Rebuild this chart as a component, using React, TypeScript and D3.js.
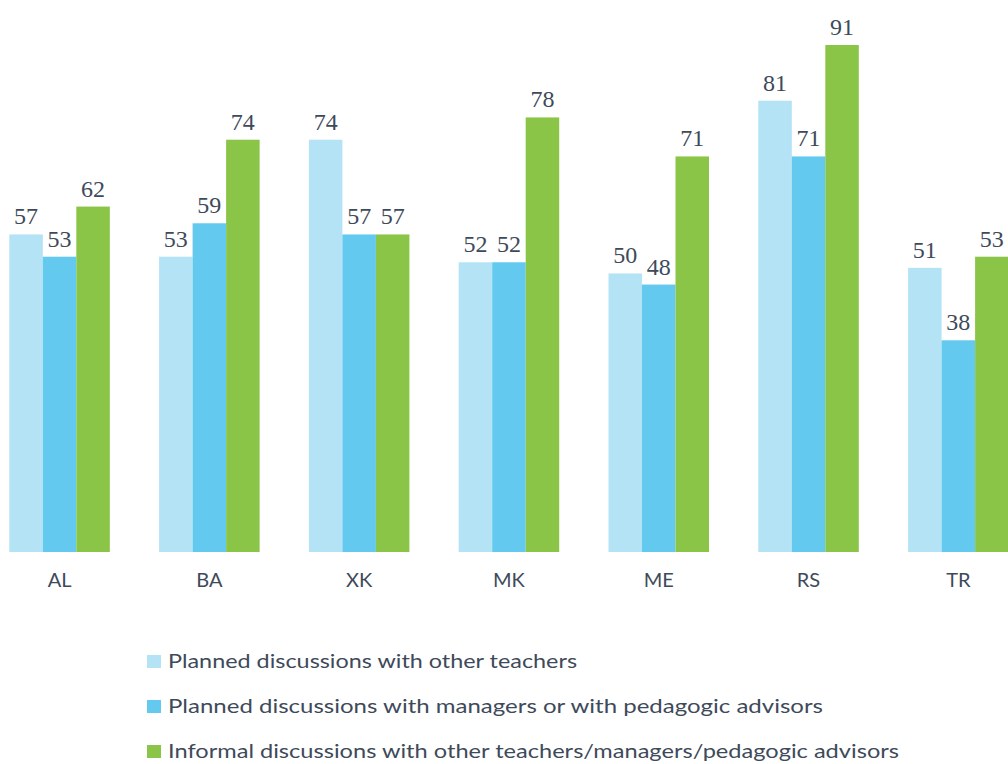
import React from "react";
import * as d3 from "d3";

const categories = ["AL", "BA", "XK", "MK", "ME", "RS", "TR"];
const seriesNames = [
  "Planned discussions with other teachers",
  "Planned discussions with managers or with pedagogic advisors",
  "Informal discussions with other teachers/managers/pedagogic advisors",
];
const plannedTeachers = [57, 53, 74, 52, 50, 81, 51];
const plannedManagers = [53, 59, 57, 52, 48, 71, 38];
const informal = [62, 74, 57, 78, 71, 91, 53];
const colors = ["#b3e3f5", "#63c9ef", "#8bc548"];
const legendWidths = [409, 655, 731];

export default function App() {
  const W = 1008;
  const H = 764;
  const series = [plannedTeachers, plannedManagers, informal];
  const x = d3
    .scaleBand<string>()
    .domain(categories)
    .range([9.3, 1008.6])
    .paddingInner(0.329)
    .paddingOuter(0);
  const xs = d3
    .scaleBand<number>()
    .domain([0, 1, 2])
    .range([0, x.bandwidth()])
    .padding(0);
  const y = d3.scaleLinear().domain([0, 91]).range([552, 45]);
  const textColor = "#3e4a5a";

  return (
    <svg
      width={W}
      height={H}
      style={{ position: "absolute", left: 0, top: 0, background: "#fff" }}
    >
      {categories.map((c, i) => (
        <g key={c}>
          {series.map((s, k) => {
            const bx = (x(c) as number) + (xs(k) as number);
            const bw = xs.bandwidth();
            return (
              <g key={k}>
                <rect
                  x={bx}
                  y={y(s[i])}
                  width={bw}
                  height={y(0) - y(s[i])}
                  fill={colors[k]}
                />
                <text
                  x={bx + bw / 2}
                  y={y(s[i]) - 10}
                  textAnchor="middle"
                  fontFamily="'Liberation Serif', serif"
                  fontSize={24}
                  fill={textColor}
                >
                  {s[i]}
                </text>
              </g>
            );
          })}
          <text
            x={(x(c) as number) + x.bandwidth() / 2}
            y={587}
            textAnchor="middle"
            fontFamily="Lato, sans-serif"
            fontSize={20}
            fill={textColor}
          >
            {c}
          </text>
        </g>
      ))}
      {seriesNames.map((n, k) => (
        <g key={n} transform={`translate(147, ${655 + k * 45})`}>
          <rect x={0} y={0} width={14} height={13} fill={colors[k]} />
          <text
            x={21}
            y={13}
            fontFamily="Lato, sans-serif"
            fontSize={20}
            fill={textColor}
            textLength={legendWidths[k]}
            lengthAdjust="spacingAndGlyphs"
          >
            {n}
          </text>
        </g>
      ))}
    </svg>
  );
}
